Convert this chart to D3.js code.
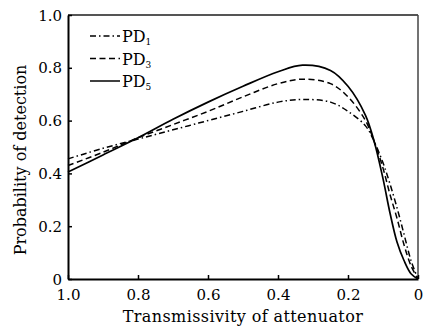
<!DOCTYPE html>
<html>
<head>
<meta charset="utf-8">
<script src="https://cdn.jsdelivr.net/npm/d3@7"></script>
<style>
  html, body { margin: 0; padding: 0; background: #fff; }
  svg { display: block; }
  svg text { font-family: 'DejaVu Serif', 'Liberation Serif', serif; fill: #000; }
</style>
</head>
<body>
<div id="chart"></div>
<script>
// transmissivity samples (x axis runs from 1.0 down to 0)
const trans = [1.0, 0.9, 0.8, 0.7, 0.6, 0.5, 0.4, 0.33, 0.25, 0.2, 0.15, 0.125, 0.1, 0.08, 0.06, 0.04, 0.02, 0.0];
const pd1 = [0.455, 0.495, 0.53, 0.565, 0.6, 0.635, 0.67, 0.68, 0.67, 0.635, 0.58, 0.52, 0.44, 0.36, 0.27, 0.17, 0.07, 0.0];
const pd3 = [0.43, 0.48, 0.535, 0.585, 0.635, 0.69, 0.74, 0.757, 0.74, 0.69, 0.6, 0.52, 0.42, 0.32, 0.23, 0.13, 0.05, 0.0];
const pd5 = [0.405, 0.47, 0.535, 0.605, 0.67, 0.73, 0.785, 0.81, 0.79, 0.73, 0.62, 0.52, 0.38, 0.25, 0.14, 0.07, 0.02, 0.0];
const seriesNames = ['PD', 'PD', 'PD'];
const seriesSubs = ['1', '3', '5'];
const xTicks = [1.0, 0.8, 0.6, 0.4, 0.2, 0];
const yTicks = [0, 0.2, 0.4, 0.6, 0.8, 1.0];

const width = 423, height = 327;
const margin = { top: 15, right: 5, bottom: 48, left: 68 };
const innerW = width - margin.left - margin.right;
const innerH = height - margin.top - margin.bottom;

const svg = d3.select('#chart').append('svg')
  .attr('width', width)
  .attr('height', height);

const g = svg.append('g')
  .attr('transform', `translate(${margin.left},${margin.top})`);

const x = d3.scaleLinear().domain([1, 0]).range([0, innerW]);
const y = d3.scaleLinear().domain([0, 1]).range([innerH, 0]);

const fmt = d => d === 0 ? '0' : d3.format('.1f')(d);

// frame: top and right in grey
g.append('line').attr('x1', 0).attr('x2', innerW).attr('y1', 0).attr('y2', 0)
  .attr('stroke', '#555').attr('stroke-width', 2);
g.append('line').attr('x1', innerW).attr('x2', innerW).attr('y1', 0).attr('y2', innerH)
  .attr('stroke', '#444').attr('stroke-width', 1.5);

// axes with inward ticks
const xAxis = g.append('g')
  .attr('transform', `translate(0,${innerH})`)
  .call(d3.axisBottom(x).tickValues(xTicks).tickFormat(fmt).tickSizeInner(-4).tickSizeOuter(0).tickPadding(10));
const yAxis = g.append('g')
  .call(d3.axisLeft(y).tickValues(yTicks).tickFormat(fmt).tickSizeInner(-4).tickSizeOuter(0).tickPadding(6));

[xAxis, yAxis].forEach(a => {
  a.attr('font-family', null).attr('font-size', null);
  a.select('.domain').attr('stroke', '#000').attr('stroke-width', 2);
  a.selectAll('.tick line').attr('stroke', '#000').attr('stroke-width', 1.5);
  a.selectAll('.tick text').style('font-size', '15px');
});
yAxis.selectAll('.tick text').attr('dy', '0.34em');

// curves
const series = [
  { values: pd1, dash: '6,3,1.5,3' },
  { values: pd3, dash: '6,3.5' },
  { values: pd5, dash: null }
];

const line = d3.line()
  .x(d => x(d[0]))
  .y(d => y(d[1]))
  .curve(d3.curveCatmullRom.alpha(0.5));

series.forEach(s => {
  g.append('path')
    .datum(trans.map((t, i) => [t, s.values[i]]))
    .attr('d', line)
    .attr('fill', 'none')
    .attr('stroke', '#000')
    .attr('stroke-width', s.dash ? 1.5 : 1.7)
    .attr('stroke-dasharray', s.dash);
});

// legend
const legend = svg.append('g').attr('transform', 'translate(90,36)');
series.forEach((s, i) => {
  const row = legend.append('g').attr('transform', `translate(0,${i * 22.5})`);
  row.append('line')
    .attr('x1', 0).attr('x2', 30).attr('y1', 0).attr('y2', 0)
    .attr('stroke', '#000').attr('stroke-width', 1.5)
    .attr('stroke-dasharray', s.dash);
  const t = row.append('text')
    .attr('x', 32).attr('y', 6)
    .style('font-size', '16px');
  t.append('tspan').text(seriesNames[i]);
  t.append('tspan').attr('dy', 3).style('font-size', '9px').text(seriesSubs[i]);
});

// axis titles
svg.append('text')
  .attr('x', margin.left + innerW / 2)
  .attr('y', 322)
  .attr('text-anchor', 'middle')
  .style('font-size', '16px')
  .style('letter-spacing', '0.4px')
  .text('Transmissivity of attenuator');

svg.append('text')
  .attr('transform', `translate(26,160) rotate(-90)`)
  .attr('text-anchor', 'middle')
  .style('font-size', '16px')
  .text('Probability of detection');
</script>
</body>
</html>
